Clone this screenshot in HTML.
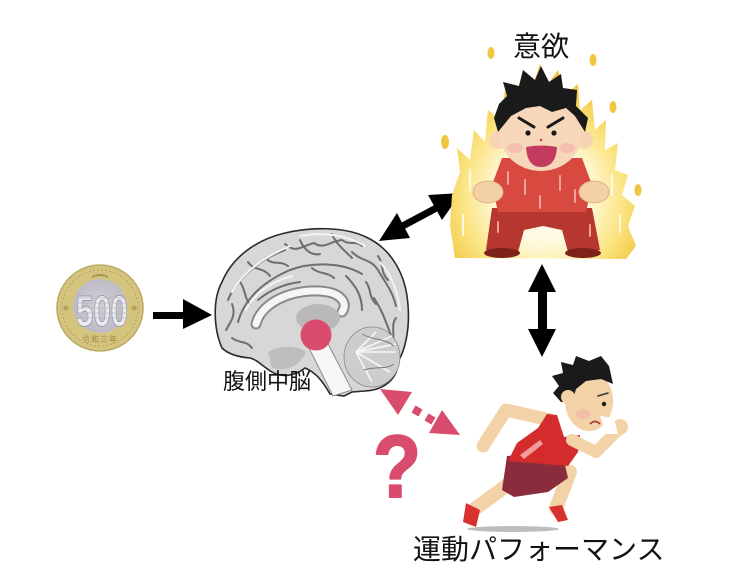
<!DOCTYPE html>
<html>
<head>
<meta charset="utf-8">
<style>
  html,body{margin:0;padding:0;background:#fff;}
  body{width:731px;height:588px;overflow:hidden;}
  svg{display:block;}
  .jp{font-family:"Liberation Sans","Noto Sans CJK JP",sans-serif;}
</style>
</head>
<body>
<svg width="731" height="588" viewBox="0 0 731 588" xmlns="http://www.w3.org/2000/svg">
  <defs>
    <radialGradient id="fg" cx="0.5" cy="0.68" r="0.62">
      <stop offset="0" stop-color="#ffffff"/>
      <stop offset="0.4" stop-color="#fff9dc"/>
      <stop offset="0.7" stop-color="#fbe482"/>
      <stop offset="1" stop-color="#f1c235"/>
    </radialGradient>
    <radialGradient id="coinIn" cx="0.5" cy="0.5" r="0.5">
      <stop offset="0" stop-color="#d2d1d8"/>
      <stop offset="1" stop-color="#bdbcc6"/>
    </radialGradient>
  </defs>

  <rect width="731" height="588" fill="#fff"/>

  <!-- ===== COIN ===== -->
  <circle cx="100" cy="308" r="43" fill="#d5c47e" stroke="#bba864" stroke-width="1.5"/>
  <circle cx="100" cy="308" r="38" fill="none" stroke="#b49f55" stroke-width="1.2" stroke-dasharray="1.5 2.5"/>
  <circle cx="100" cy="306" r="27" fill="url(#coinIn)"/>
  <text x="102" y="326" font-family="Liberation Sans, sans-serif" font-weight="bold" font-size="44" fill="#ececf0" stroke="#9d9ca8" stroke-width="1" text-anchor="middle" textLength="52" lengthAdjust="spacingAndGlyphs">500</text>
  <g stroke="#b8b7c2" stroke-width="0.8">
    <line x1="78" y1="298" x2="126" y2="298"/><line x1="78" y1="303" x2="126" y2="303"/>
    <line x1="78" y1="308" x2="126" y2="308"/><line x1="78" y1="313" x2="126" y2="313"/>
    <line x1="78" y1="318" x2="126" y2="318"/>
  </g>
  <text x="100" y="342" class="jp" font-size="8" fill="#9c8a45" text-anchor="middle" letter-spacing="1">令和三年</text>
  <path d="M92,277 q8,-4 16,0" stroke="#a99550" stroke-width="2" fill="none"/>
  <circle cx="66" cy="308" r="2.5" fill="#b5a158"/>
  <circle cx="134" cy="308" r="2.5" fill="#b5a158"/>

  <!-- coin -> brain arrow -->
  <rect x="153" y="312" width="31" height="7" fill="#000"/>
  <polygon points="183,299 212,315 183,329" fill="#000"/>

  <!-- ===== BRAIN ===== -->
  <path d="M222,348 C214,330 212,300 222,282 C232,258 255,240 285,233 C310,227 345,226 368,238 C392,250 406,275 408,305 C410,330 405,350 398,362 C398,378 385,390 365,391 L352,392 L344,396 L330,394 C322,380 315,372 305,368 C295,376 282,378 272,372 C262,366 258,360 250,358 C238,357 228,354 222,348 Z"
        fill="#d7d7d7" stroke="#2a2a2a" stroke-width="1.6"/>
  <g fill="none" stroke="#6e6e6e" stroke-width="2" stroke-linecap="round">
    <path d="M228,300 C236,280 258,260 285,250"/>
    <path d="M238,322 C244,300 262,282 290,270 C312,262 342,262 362,274"/>
    <path d="M285,244 C296,254 302,246 314,243 C324,250 330,241 342,240 C350,246 356,240 362,246"/>
    <path d="M352,252 C362,262 370,258 378,270 C386,284 392,290 396,306"/>
    <path d="M374,298 C382,310 386,322 392,338"/>
    <path d="M226,330 C232,320 236,314 232,304"/>
    <path d="M248,262 C255,272 262,266 270,276"/>
    <path d="M258,300 C270,290 284,284 300,282"/>
    <path d="M346,276 C356,286 362,296 362,310"/>
    <path d="M300,240 C304,250 312,256 320,254"/>
    <path d="M332,234 C336,244 344,250 352,258"/>
    <path d="M378,256 C384,264 380,272 388,280"/>
    <path d="M396,318 C390,326 396,336 392,346"/>
    <path d="M232,338 C240,344 246,340 252,348"/>
    <path d="M266,258 C272,266 280,260 288,266"/>
    <path d="M312,268 C318,274 328,272 334,278"/>
    <path d="M366,282 C372,290 368,296 376,304"/>
    <path d="M240,282 C246,290 244,298 250,304"/>
  </g>
  <g fill="none" stroke="#f3f3f3" stroke-width="2" stroke-linecap="round">
    <path d="M232,292 C242,274 262,258 290,246"/>
    <path d="M300,236 C320,232 345,234 365,246"/>
    <path d="M380,262 C392,276 398,292 400,310"/>
    <path d="M246,310 C254,294 270,282 292,276"/>
  </g>
  <path d="M256,324 C262,300 298,287 328,292 C342,295 348,304 342,312" fill="none" stroke="#8a8a8a" stroke-width="11" stroke-linecap="round"/>
  <path d="M256,324 C262,300 298,287 328,292 C342,295 348,304 342,312" fill="none" stroke="#f6f6f6" stroke-width="7" stroke-linecap="round"/>
  <ellipse cx="318" cy="318" rx="22" ry="14" fill="#b9b9b9"/>
  <path d="M268,352 C282,344 298,346 306,352 C300,366 286,372 272,368 Z" fill="#bdbdbd"/>
  <!-- cerebellum -->
  <ellipse cx="372" cy="357" rx="28" ry="30" fill="#cdcdcd" stroke="#888" stroke-width="0.8"/>
  <g stroke="#f7f7f7" stroke-width="1.6" fill="none">
    <path d="M356,352 L392,336"/><path d="M356,352 L396,352"/><path d="M356,352 L390,372"/>
    <path d="M356,352 L376,332"/><path d="M356,352 L372,382"/><path d="M356,352 L396,344"/>
  </g>
  <g stroke="#777" stroke-width="1" fill="none">
    <path d="M362,334 C372,340 384,338 394,346"/>
    <path d="M364,370 C374,366 386,370 394,364"/>
  </g>
  <path d="M306,342 L326,340 L352,390 L333,396 Z" fill="#f7f7f7" stroke="#8c8c8c" stroke-width="1"/>
  <circle cx="316" cy="335" r="15.5" fill="#d94c6e"/>

  <text x="223" y="389" class="jp" font-size="22" fill="#111">腹側中脳</text>

  <!-- brain <-> fire arrow -->
  <line x1="397" y1="229" x2="442" y2="205" stroke="#000" stroke-width="7"/>
  <polygon points="379,241 397,213 410,238" fill="#000"/>
  <polygon points="461,193 428,195 442,220" fill="#000"/>

  <!-- vertical arrow -->
  <rect x="538" y="290" width="9" height="41" fill="#000"/>
  <polygon points="542,264 556,292 528,292" fill="#000"/>
  <polygon points="528,329 556,329 542,357" fill="#000"/>

  <!-- ===== FIRE GUY ===== -->
  <text x="541" y="56" class="jp" font-size="28" fill="#111" text-anchor="middle">意欲</text>
  <g fill="#f2c540">
    <ellipse cx="491" cy="53" rx="3.5" ry="6"/>
    <ellipse cx="593" cy="60" rx="3.5" ry="6"/>
    <ellipse cx="613" cy="107" rx="3.5" ry="6"/>
    <ellipse cx="445" cy="142" rx="4" ry="7"/>
    <ellipse cx="638" cy="190" rx="3.5" ry="6"/>
  </g>
  <path d="M455,258 L450,225 L452,195 L460,172 L457,148 L470,160 L474,130 L485,142 L488,110 L500,120 L505,90 L515,100 L522,74 L532,88 L540,64 L548,84 L558,70 L565,95 L578,84 L580,110 L592,100 L595,130 L606,120 L605,150 L618,143 L615,170 L628,175 L622,195 L635,206 L628,226 L636,246 L626,259 Z"
        fill="url(#fg)"/>
  <g stroke="#fffbe8" stroke-width="2" stroke-linecap="round" opacity="0.9">
    <line x1="470" y1="170" x2="470" y2="190"/>
    <line x1="612" y1="175" x2="612" y2="195"/>
    <line x1="463" y1="215" x2="463" y2="235"/>
    <line x1="620" y1="215" x2="620" y2="232"/>
    <line x1="515" y1="80" x2="515" y2="95"/>
  </g>
  <path d="M492,208 L592,208 L600,250 L568,252 L562,230 L543,226 L524,230 L518,252 L486,250 Z" fill="#b5372f"/>
  <ellipse cx="502" cy="253" rx="18" ry="5" fill="#7d211b"/>
  <ellipse cx="583" cy="253" rx="18" ry="5" fill="#7d211b"/>
  <path d="M502,158 L582,158 L592,185 L586,212 L498,212 L492,185 Z" fill="#d8493f"/>
  <path d="M528,160 L541,170 L554,160 Z" fill="#f0a36a"/>
  <g stroke="#f4a09a" stroke-width="2" stroke-linecap="round">
    <line x1="508" y1="172" x2="508" y2="184"/>
    <line x1="525" y1="180" x2="525" y2="194"/>
    <line x1="560" y1="176" x2="560" y2="190"/>
    <line x1="575" y1="190" x2="575" y2="202"/>
    <line x1="498" y1="222" x2="498" y2="232"/>
    <line x1="590" y1="225" x2="590" y2="236"/>
    <line x1="540" y1="196" x2="540" y2="208"/>
  </g>
  <ellipse cx="488" cy="192" rx="15" ry="11" fill="#f4d0a6" stroke="#e0b184" stroke-width="1"/>
  <ellipse cx="594" cy="192" rx="15" ry="11" fill="#f4d0a6" stroke="#e0b184" stroke-width="1"/>
  <circle cx="498" cy="140" r="9" fill="#f6d4b4"/>
  <circle cx="584" cy="140" r="9" fill="#f6d4b4"/>
  <ellipse cx="541" cy="134" rx="41" ry="37" fill="#f7d7b9"/>
  <ellipse cx="515" cy="148" rx="8" ry="5" fill="#f3b6a8" opacity="0.7"/>
  <ellipse cx="567" cy="148" rx="8" ry="5" fill="#f3b6a8" opacity="0.7"/>
  <path d="M498,132 L494,118 L499,104 L507,96 L503,82 L519,86 L523,70 L535,80 L541,66 L549,82 L561,74 L563,88 L577,90 L576,106 L588,118 L585,132 L575,116 L566,108 L552,112 L540,106 L526,108 L511,116 Z" fill="#1a1a1a"/>
  <path d="M519,118 L534,127" stroke="#1a1a1a" stroke-width="3" stroke-linecap="round"/>
  <path d="M563,118 L548,127" stroke="#1a1a1a" stroke-width="3" stroke-linecap="round"/>
  <circle cx="528" cy="133" r="2.6" fill="#1a1a1a"/>
  <circle cx="554" cy="133" r="2.6" fill="#1a1a1a"/>
  <circle cx="541" cy="140" r="1.3" fill="#c44"/>
  <path d="M526,147 Q541,144 557,147 Q556,167 541,167 Q527,167 526,147 Z" fill="#c33b5e"/>

  <!-- ===== PINK DOTTED ARROW + ? ===== -->
  <polygon points="380,389 412,392 398,415" fill="#d94c6e"/>
  <polygon points="460,435 442,410 429,433" fill="#d94c6e"/>
  <g fill="#d94c6e">
    <rect x="-4" y="-4" width="8" height="8" transform="translate(417,411) rotate(30)"/>
    <rect x="-4" y="-4" width="8" height="8" transform="translate(430,419) rotate(30)"/>
  </g>
  <text x="397" y="497" font-family="Liberation Sans, sans-serif" font-weight="bold" font-size="88" fill="#d94c6e" stroke="#d94c6e" stroke-width="2" stroke-linejoin="round" text-anchor="middle" textLength="48" lengthAdjust="spacingAndGlyphs">?</text>

  <!-- ===== RUNNER ===== -->
  <ellipse cx="513" cy="529" rx="46" ry="3" fill="#bdbdbd"/>
  <path d="M510,483 L476,508" stroke="#f2d2a6" stroke-width="14" stroke-linecap="round"/>
  <path d="M466,503 L480,510 L476,527 L463,522 Z" fill="#d93030"/>
  <path d="M548,478 L570,472 L556,508" stroke="#f2d2a6" stroke-width="14" stroke-linecap="round" stroke-linejoin="round" fill="none"/>
  <path d="M549,507 L562,505 L568,520 L558,522 Z" fill="#d93030"/>
  <path d="M550,420 L506,410 L483,446" stroke="#f2d2a6" stroke-width="13" stroke-linecap="round" stroke-linejoin="round" fill="none"/>
  <path d="M507,456 L562,452 L568,478 L548,492 L514,497 L502,490 Z" fill="#8a2c3c"/>
  <path d="M547,414 L557,415 L564,437 L580,435 L578,452 L568,466 L508,461 L517,443 L538,428 Z" fill="#d42c2c"/>
  <path d="M520,455 L540,440 L543,444 L524,459 Z" fill="#f39a9a"/>
  <path d="M572,440 L596,452 L618,430" stroke="#f2d2a6" stroke-width="12" stroke-linecap="round" stroke-linejoin="round" fill="none"/>
  <circle cx="620" cy="427" r="8" fill="#f2d2a6"/>
  <ellipse cx="589" cy="401" rx="24" ry="30" fill="#f2d2a6"/>
  <ellipse cx="583" cy="414" rx="7" ry="5" fill="#f0b4a6" opacity="0.7"/>
  <path d="M600,416 L614,418 L618,434 L606,434 Z" fill="#ffffff"/>
  <path d="M561,402 L553,393 L559,386 L552,376 L563,373 L561,362 L573,365 L576,356 L589,361 L601,356 L609,366 L613,384 L601,379 L586,381 L576,389 L572,402 Z" fill="#1a1a1a"/>
  <circle cx="568" cy="397" r="7" fill="#f2d2a6"/>
  <circle cx="604" cy="404" r="2.2" fill="#1a1a1a"/>
  <path d="M598,396 L608,393" stroke="#333" stroke-width="1.5" stroke-linecap="round"/>
  <path d="M590,424 Q595,419 600,424" stroke="#a33" stroke-width="1.6" fill="none"/>

  <text x="413" y="559" class="jp" font-size="28" fill="#111">運動パフォーマンス</text>
</svg>
</body>
</html>
